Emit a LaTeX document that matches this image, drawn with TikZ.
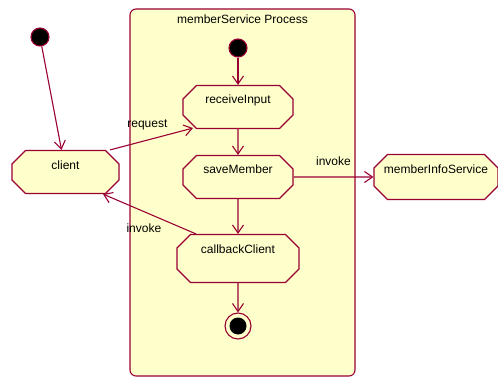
\documentclass[tikz,border=0pt]{standalone}
\usepackage{fontspec}
\setmainfont{Liberation Sans}
\usetikzlibrary{shapes.misc,arrows.meta}
\definecolor{umlred}{RGB}{153,0,51}
\definecolor{umlfill}{RGB}{255,255,204}
\tikzset{
  act/.style={chamfered rectangle, chamfered rectangle xsep=10pt, draw=umlred, fill=umlfill,
    line width=1.1pt, inner sep=0pt, text height=15pt, text depth=#1,
    font=\fontsize{12}{14}\selectfont},
  act/.default=21pt,
  start/.style={circle, draw=umlred, fill=black, line width=1.1pt, minimum size=18pt, inner sep=0pt},
  stop/.style={circle, draw=umlred, fill=umlfill, line width=1.1pt, minimum size=26pt, inner sep=0pt,
    path picture={\fill[black] (path picture bounding box.center) circle (8.5pt);}},
  flow/.style={draw=umlred, line width=1.1pt, -{Straight Barb[length=8pt,width=11pt]}},
  lbl/.style={inner sep=0pt, font=\fontsize{12}{14}\selectfont}
}
\begin{document}
\begin{tikzpicture}[x=1pt,y=-1pt]
\useasboundingbox (0,0) rectangle (498,377);
% process partition
\node [draw=umlred, fill=umlfill, rounded corners=6pt, line width=1.1pt,
  minimum width=225pt, minimum height=367pt] (proc) at (242.5,192.5) {};
\node [lbl, anchor=base] (procTitle) at (242.5,24) {memberService Process};
% states
\node [start] (start1) at (40,37) {};
\node [start] (start2) at (238,48) {};
\node [act, minimum width=107pt] (client) at (65.5,172) {client};
\node [act, minimum width=110pt] (receiveInput) at (238,107) {receiveInput};
\node [act, minimum width=110pt] (saveMember) at (238,177) {saveMember};
\node [act=26pt, minimum width=122pt] (callbackClient) at (238,258.5) {callbackClient};
\node [act=23pt, minimum width=122pt] (memberInfoService) at (436,177) {memberInfoService};
\node [stop] (final) at (238,326) {};
% transitions
\draw [flow] (start1) -- ([xshift=-4pt]client.north);
\draw [flow] (start2) -- (receiveInput);
\draw [flow] (receiveInput) -- (saveMember);
\draw [flow] (saveMember) -- (callbackClient);
\draw [flow] (callbackClient) -- (final);
\draw [flow] ([xshift=44.5pt]client.north) -- node [lbl, pos=0.45, above=10pt] {request}
  ([xshift=-45pt,yshift=1pt]receiveInput.south);
\draw [flow] ([xshift=-42pt]callbackClient.north) -- node [lbl, pos=0.56, below=12pt] {invoke}
  ([xshift=37.5pt]client.south);
\draw [flow] (saveMember) -- node [lbl, pos=0.5, above=11pt] {invoke} (memberInfoService);
\end{tikzpicture}
\end{document}
